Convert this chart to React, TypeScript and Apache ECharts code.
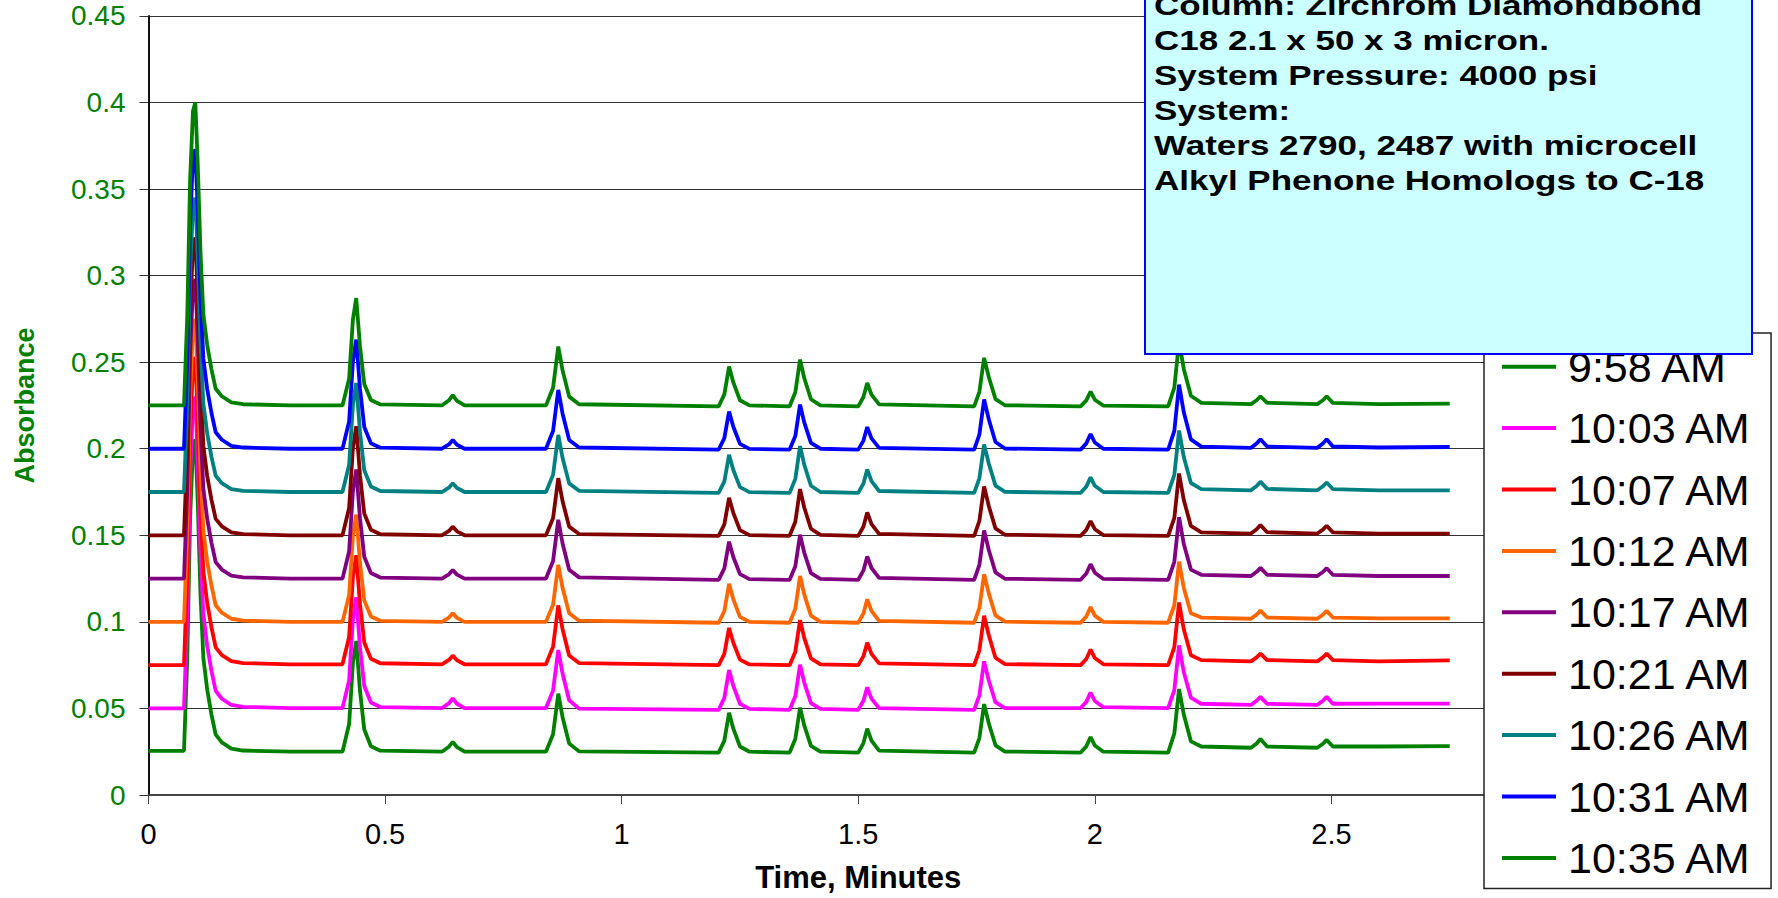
import React, { useEffect, useRef } from "react";
import * as echarts from "echarts";

// Retention time grid (minutes)
const TIME = [
  0, 0.075, 0.082, 0.088, 0.094, 0.099, 0.104, 0.11, 0.116, 0.124, 0.133, 0.142, 0.155, 0.175, 0.2, 0.3,
  0.41, 0.424, 0.432, 0.439, 0.447, 0.456, 0.47, 0.49,
  0.62, 0.635, 0.643, 0.652, 0.668,
  0.84, 0.855, 0.866, 0.875, 0.889, 0.91,
  1.205, 1.217, 1.227, 1.236, 1.25, 1.27,
  1.355, 1.367, 1.377, 1.386, 1.4, 1.42,
  1.5, 1.511, 1.519, 1.528, 1.544,
  1.745, 1.756, 1.766, 1.776, 1.79, 1.81,
  1.97, 1.982, 1.991, 2.0, 2.018,
  2.155, 2.168, 2.178, 2.188, 2.203, 2.225,
  2.33, 2.342, 2.35, 2.364,
  2.47, 2.482, 2.49, 2.503,
  2.6, 2.75,
];

const A_0958 = [
  0.0255, 0.0255, 0.0795, 0.1605, 0.2001, 0.2055, 0.1695, 0.115, 0.079, 0.061, 0.0466, 0.0349, 0.0304, 0.0268, 0.0257, 0.025,
  0.025, 0.041, 0.0762, 0.089, 0.0602, 0.0378, 0.0282, 0.0256,
  0.025, 0.0279, 0.0307, 0.0276, 0.025,
  0.025, 0.0351, 0.0585, 0.0451, 0.0297, 0.0252,
  0.0245, 0.0314, 0.0475, 0.0383, 0.028, 0.025,
  0.0245, 0.0323, 0.0505, 0.0401, 0.0284, 0.025,
  0.0245, 0.03, 0.0383, 0.0314, 0.0256,
  0.0245, 0.0329, 0.0525, 0.0413, 0.0287, 0.0251,
  0.0245, 0.0281, 0.0335, 0.0286, 0.025,
  0.0245, 0.0356, 0.0612, 0.0465, 0.031, 0.028,
  0.0273, 0.0298, 0.0323, 0.028,
  0.0273, 0.0296, 0.0318, 0.028,
  0.028, 0.0282,
];

const A_1003 = [
  0.05, 0.05, 0.104, 0.185, 0.2246, 0.23, 0.194, 0.1402, 0.1042, 0.0862, 0.0718, 0.0601, 0.0556, 0.052, 0.0509, 0.0502,
  0.0502, 0.0662, 0.1014, 0.1142, 0.0854, 0.063, 0.0534, 0.0508,
  0.0502, 0.053, 0.0557, 0.0527, 0.0502,
  0.0502, 0.0603, 0.0837, 0.0703, 0.0547, 0.0499,
  0.0492, 0.0561, 0.0722, 0.063, 0.0527, 0.0497,
  0.0492, 0.057, 0.0752, 0.0648, 0.0531, 0.0497,
  0.0492, 0.0544, 0.0622, 0.0557, 0.0502,
  0.0492, 0.0576, 0.0772, 0.066, 0.0536, 0.0502,
  0.0502, 0.0538, 0.0592, 0.0543, 0.0507,
  0.0502, 0.0606, 0.0864, 0.0709, 0.0563, 0.0527,
  0.052, 0.0544, 0.0567, 0.0527,
  0.052, 0.0544, 0.0567, 0.0527,
  0.0528, 0.0528,
];

const A_1007 = [
  0.075, 0.075, 0.1284, 0.2085, 0.2477, 0.253, 0.2174, 0.1645, 0.1289, 0.1111, 0.0969, 0.0853, 0.0808, 0.0773, 0.0762, 0.0755,
  0.0755, 0.0913, 0.1259, 0.1385, 0.1102, 0.0881, 0.0787, 0.0761,
  0.0755, 0.078, 0.0805, 0.0778, 0.0755,
  0.0755, 0.0857, 0.1095, 0.0959, 0.0806, 0.0762,
  0.075, 0.0815, 0.0965, 0.0879, 0.0782, 0.0754,
  0.075, 0.0828, 0.101, 0.0906, 0.0789, 0.0755,
  0.075, 0.0802, 0.088, 0.0815, 0.076,
  0.075, 0.0836, 0.1035, 0.0921, 0.0793, 0.0756,
  0.075, 0.0786, 0.084, 0.0791, 0.0755,
  0.075, 0.0854, 0.1112, 0.0957, 0.0807, 0.0779,
  0.0772, 0.0795, 0.0817, 0.0779,
  0.0772, 0.0795, 0.0817, 0.0779,
  0.0772, 0.0778,
];

const A_1012 = [
  0.1, 0.1, 0.1525, 0.2313, 0.2698, 0.275, 0.24, 0.1875, 0.1525, 0.135, 0.121, 0.1096, 0.1053, 0.1018, 0.1007, 0.1,
  0.1, 0.1155, 0.1496, 0.162, 0.1341, 0.1124, 0.1031, 0.1006,
  0.1, 0.1025, 0.105, 0.1023, 0.1,
  0.1, 0.1099, 0.133, 0.1198, 0.105, 0.1007,
  0.0995, 0.1063, 0.122, 0.113, 0.1029, 0.1,
  0.0995, 0.1076, 0.1265, 0.1157, 0.1036, 0.1,
  0.0995, 0.1049, 0.113, 0.1063, 0.1006,
  0.0995, 0.1079, 0.1275, 0.1163, 0.1037, 0.1001,
  0.0995, 0.1031, 0.1085, 0.1036, 0.1,
  0.0995, 0.1096, 0.1348, 0.1196, 0.105, 0.1025,
  0.1018, 0.1042, 0.1065, 0.1025,
  0.1018, 0.1041, 0.1063, 0.1025,
  0.102, 0.102,
];

const A_1017 = [
  0.125, 0.125, 0.1769, 0.2548, 0.2928, 0.298, 0.2634, 0.2115, 0.1769, 0.1596, 0.1458, 0.1345, 0.1302, 0.1267, 0.1257, 0.125,
  0.125, 0.1408, 0.1754, 0.188, 0.1597, 0.1376, 0.1282, 0.1256,
  0.125, 0.1275, 0.13, 0.1273, 0.125,
  0.125, 0.1352, 0.159, 0.1454, 0.1301, 0.1257,
  0.1243, 0.1309, 0.1463, 0.1375, 0.1276, 0.1247,
  0.1243, 0.1321, 0.1503, 0.1399, 0.1282, 0.1248,
  0.1243, 0.1297, 0.1378, 0.1311, 0.1254,
  0.1243, 0.1329, 0.1528, 0.1414, 0.1286, 0.1249,
  0.1243, 0.1279, 0.1333, 0.1284, 0.1248,
  0.1243, 0.1347, 0.1605, 0.145, 0.1302, 0.1272,
  0.1265, 0.1289, 0.1312, 0.1272,
  0.1265, 0.1288, 0.131, 0.1272,
  0.1265, 0.1265,
];

const A_1021 = [
  0.15, 0.15, 0.2016, 0.279, 0.3168, 0.322, 0.2876, 0.236, 0.2016, 0.1844, 0.1706, 0.1595, 0.1552, 0.1517, 0.1507, 0.15,
  0.15, 0.1658, 0.2004, 0.213, 0.1847, 0.1626, 0.1532, 0.1506,
  0.15, 0.1525, 0.155, 0.1523, 0.15,
  0.15, 0.1599, 0.183, 0.1698, 0.155, 0.1507,
  0.1497, 0.1563, 0.1717, 0.1629, 0.153, 0.1501,
  0.1497, 0.1578, 0.1767, 0.1659, 0.1538, 0.1502,
  0.1497, 0.1551, 0.1632, 0.1565, 0.1508,
  0.1497, 0.1583, 0.1782, 0.1668, 0.154, 0.1503,
  0.1497, 0.1531, 0.1582, 0.1535, 0.1501,
  0.1497, 0.16, 0.1857, 0.1704, 0.1554, 0.1517,
  0.151, 0.1535, 0.156, 0.1518,
  0.151, 0.1533, 0.1555, 0.1517,
  0.151, 0.151,
];

const A_1026 = [
  0.175, 0.175, 0.226, 0.3025, 0.3399, 0.345, 0.311, 0.26, 0.226, 0.209, 0.1954, 0.1844, 0.1801, 0.1767, 0.1757, 0.175,
  0.175, 0.1908, 0.2254, 0.238, 0.2097, 0.1876, 0.1782, 0.1756,
  0.175, 0.1775, 0.18, 0.1773, 0.175,
  0.175, 0.1849, 0.208, 0.1948, 0.18, 0.1757,
  0.1745, 0.1811, 0.1965, 0.1877, 0.1778, 0.1749,
  0.1745, 0.1826, 0.2015, 0.1907, 0.1786, 0.175,
  0.1745, 0.1799, 0.188, 0.1813, 0.1756,
  0.1745, 0.1829, 0.2025, 0.1913, 0.1787, 0.1751,
  0.1745, 0.1781, 0.1835, 0.1786, 0.175,
  0.1745, 0.1849, 0.2105, 0.1952, 0.1802, 0.1767,
  0.176, 0.1785, 0.181, 0.1768,
  0.176, 0.1783, 0.1805, 0.1767,
  0.176, 0.176,
];

const A_1031 = [
  0.2, 0.2, 0.2519, 0.3298, 0.3678, 0.373, 0.3384, 0.2865, 0.2519, 0.2346, 0.2208, 0.2095, 0.2052, 0.2017, 0.2007, 0.2,
  0.2, 0.2158, 0.2504, 0.263, 0.2347, 0.2126, 0.2032, 0.2006,
  0.2, 0.2025, 0.205, 0.2023, 0.2,
  0.2, 0.2102, 0.234, 0.2204, 0.2051, 0.2007,
  0.1995, 0.2061, 0.2215, 0.2127, 0.2028, 0.1999,
  0.1995, 0.2073, 0.2255, 0.2151, 0.2034, 0.2,
  0.1995, 0.2047, 0.2125, 0.206, 0.2005,
  0.1995, 0.2082, 0.2285, 0.2169, 0.2039, 0.2001,
  0.1995, 0.2031, 0.2085, 0.2036, 0.2,
  0.1995, 0.2103, 0.237, 0.2211, 0.2054, 0.2012,
  0.2005, 0.203, 0.2055, 0.2013,
  0.2005, 0.203, 0.2055, 0.2013,
  0.2007, 0.201,
];

const A_1035 = [
  0.225, 0.225, 0.2775, 0.356, 0.395, 0.4, 0.365, 0.3125, 0.2775, 0.26, 0.246, 0.2346, 0.2303, 0.2268, 0.2257, 0.225,
  0.225, 0.2405, 0.2746, 0.287, 0.2591, 0.2374, 0.2281, 0.2256,
  0.225, 0.228, 0.231, 0.2277, 0.225,
  0.225, 0.2352, 0.259, 0.2454, 0.2301, 0.2257,
  0.2245, 0.2314, 0.2475, 0.2383, 0.228, 0.225,
  0.2245, 0.2326, 0.2515, 0.2407, 0.2286, 0.225,
  0.2245, 0.2299, 0.238, 0.2313, 0.2256,
  0.2245, 0.2329, 0.2525, 0.2413, 0.2287, 0.2251,
  0.2245, 0.2279, 0.233, 0.2283, 0.2249,
  0.2245, 0.2353, 0.262, 0.2461, 0.2306, 0.2265,
  0.2258, 0.228, 0.2303, 0.2265,
  0.2258, 0.228, 0.2303, 0.2265,
  0.2258, 0.226,
];

const SERIES_NAMES = [
  "9:58 AM", "10:03 AM", "10:07 AM", "10:12 AM", "10:17 AM",
  "10:21 AM", "10:26 AM", "10:31 AM", "10:35 AM",
];
const SERIES_VALUES = [A_0958, A_1003, A_1007, A_1012, A_1017, A_1021, A_1026, A_1031, A_1035];
const COLORS = [
  "#008000", "#FF00FF", "#FF0000", "#FF6600", "#800080",
  "#800000", "#008080", "#0000FF", "#008000",
];

const ANNOTATION_LINES = [
  "Column: Zirchrom Diamondbond",
  "C18 2.1 x 50 x 3 micron.",
  "System Pressure: 4000 psi",
  "System:",
  "Waters 2790, 2487 with microcell",
  "Alkyl Phenone Homologs to C-18",
];

const FONT = "Arial, 'Liberation Sans', sans-serif";

export default function App() {
  const ref = useRef<HTMLDivElement>(null);

  useEffect(() => {
    if (!ref.current) return;
    const chart = echarts.init(ref.current, null, { renderer: "svg" });

    const series = SERIES_NAMES.map((name, s) => ({
      name,
      type: "line",
      data: TIME.map((t, i) => [t, SERIES_VALUES[s][i]]),
      showSymbol: false,
      symbol: "none",
      smooth: false,
      lineStyle: { color: COLORS[s], width: 3.8 },
      itemStyle: { color: COLORS[s] },
      emphasis: { disabled: true },
    }));

    const annotation = [
      {
        type: "rect",
        z: 100,
        shape: { x: 1145, y: -20, width: 607, height: 374 },
        style: { fill: "#CCFFFF", stroke: "#0000FF", lineWidth: 2 },
      },
      ...ANNOTATION_LINES.map((line, i) => ({
        type: "text",
        z: 101,
        x: 1154,
        y: 5.7 + i * 35,
        scaleX: 1.25,
        style: {
          text: line,
          font: `bold 28px ${FONT}`,
          fill: "#000000",
          verticalAlign: "middle",
          align: "left",
        },
      })),
    ];

    chart.setOption({
      animation: false,
      backgroundColor: "#ffffff",
      grid: { left: 148.5, right: 210, top: 15.9, bottom: 97.4, containLabel: false },
      xAxis: {
        type: "value",
        min: 0,
        max: 3,
        interval: 0.5,
        name: "Time, Minutes",
        nameLocation: "middle",
        nameGap: 67,
        nameTextStyle: { fontFamily: FONT, fontWeight: "bold", fontSize: 31, color: "#000" },
        axisLine: { show: true, onZero: false, lineStyle: { color: "#444", width: 2 } },
        axisTick: { show: true, inside: false, length: 9, lineStyle: { color: "#444", width: 1 } },
        axisLabel: { fontFamily: FONT, fontSize: 29, color: "#000", margin: 24, showMaxLabel: false },
        splitLine: { show: false },
      },
      yAxis: {
        type: "value",
        min: 0,
        max: 0.45,
        interval: 0.05,
        name: "Absorbance",
        nameLocation: "middle",
        nameRotate: 90,
        nameGap: 110,
        nameTextStyle: { fontFamily: FONT, fontWeight: "bold", fontSize: 27, color: "#008000" },
        axisLine: { show: true, lineStyle: { color: "#111", width: 2 } },
        axisTick: { show: true, inside: false, length: 9, lineStyle: { color: "#333", width: 1 } },
        axisLabel: { fontFamily: FONT, fontSize: 28, color: "#008000", margin: 23 },
        splitLine: { show: true, lineStyle: { color: "#333", width: 1 } },
      },
      legend: {
        show: true,
        orient: "vertical",
        left: 1484,
        top: 333,
        backgroundColor: "#ffffff",
        borderColor: "#222",
        borderWidth: 1.5,
        padding: [3, 19, 0, 18],
        itemGap: 0,
        itemWidth: 54,
        itemHeight: 4,
        icon: "rect",
        selectedMode: false,
        data: SERIES_NAMES,
        textStyle: {
          fontFamily: FONT,
          fontSize: 43,
          color: "#000",
          lineHeight: 61.4,
          padding: [0, 0, 0, 7],
        },
      },
      series,
      graphic: annotation,
    });

    return () => chart.dispose();
  }, []);

  return (
    <div
      ref={ref}
      style={{ position: "fixed", left: 0, top: 0, width: 1778, height: 898 }}
    />
  );
}
